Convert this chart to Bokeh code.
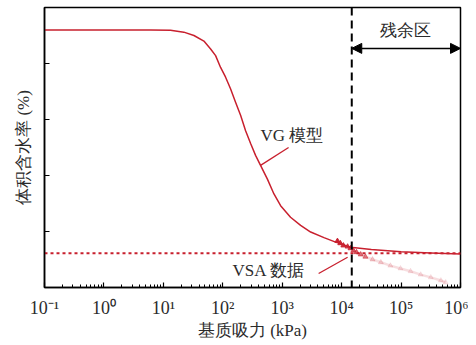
from bokeh.plotting import figure
from bokeh.models import (Range1d, FixedTicker, CustomJSTickFormatter, Span, Arrow,
                          NormalHead, Label, ColumnDataSource)
from bokeh.embed import file_html
from bokeh.resources import INLINE

# ---- data ----
# VG model curve: matric suction (kPa) vs volumetric water content (%)
vg_suction = [0.1, 1.0, 6.1, 13.2, 22.1, 32.7, 48.1, 62.4, 75.7, 91.8, 111, 135, 164, 200,
              242, 294, 356, 432, 561, 726, 940, 1380, 2040, 3010, 5040, 7930, 14100,
              31600, 100000, 316000, 1000000]
vg_theta = [46.0, 46.0, 46.0, 45.95, 45.6, 45.0, 44.0, 42.6, 41.4, 39.3, 37.6, 35.5, 33.1, 30.7,
            28.0, 25.7, 23.6, 21.8, 19.4, 16.7, 14.6, 12.55, 11.1, 9.9, 8.9, 8.1, 7.2,
            6.8, 6.4, 6.15, 6.0]

# VSA measured data
vsa_suction = [8500, 9500, 10700, 12600, 14100, 15800, 17800, 20900, 25100, 33100,
               45700, 66100, 97700, 144500, 213800, 316200, 467700, 562300]
vsa_theta = [8.3, 7.9, 7.5, 7.3, 7.0, 6.6, 6.3, 5.9, 5.5, 5.0,
             4.5, 3.9, 3.4, 2.9, 2.3, 1.8, 1.25, 0.9]

residual_theta = 6.1          # residual water content (dotted line)
residual_start = 14800        # start of residual zone (kPa)

x_ticks = [0.1, 1, 10, 100, 1000, 10000, 100000, 1000000]
x_tick_labels = ["10⁻¹", "10⁰", "10¹", "10²", "10³", "10⁴", "10⁵", "10⁶"]
y_ticks = [10, 20, 30, 40]

x_label = "基质吸力 (kPa)"
y_label = "体积含水率 (%)"
zone_label = "残余区"
vg_label = "VG 模型"
vsa_label = "VSA 数据"

# ---- styling ----
FONT = "Liberation Serif"
RED = "#c8202e"
TXT = "#2b2b2b"

p = figure(x_axis_type="log",
           x_range=Range1d(0.1, 1e6), y_range=Range1d(0, 50),
           output_backend="svg", toolbar_location=None,
           min_border_left=44, min_border_right=8, min_border_top=7, min_border_bottom=40)
p.frame_width = 416
p.frame_height = 280
p.title_location = None
p.background_fill_color = "white"
p.border_fill_color = "white"
p.outline_line_color = "black"
p.outline_line_width = 1.5
p.xgrid.visible = False
p.ygrid.visible = False

minor = []
for k in range(-1, 6):
    for m in range(2, 10):
        minor.append(m * 10.0 ** k)

xa = p.xaxis[0]
xa.ticker = FixedTicker(ticks=x_ticks, minor_ticks=minor)
xa.formatter = CustomJSTickFormatter(args=dict(vals=x_ticks, labs=x_tick_labels), code="""
let best = 0; let d = 1e99;
for (let i = 0; i < vals.length; i++) {
  const dd = Math.abs(Math.log10(vals[i]) - Math.log10(tick));
  if (dd < d) { d = dd; best = i; }
}
return labs[best];
""")
xa.major_tick_in = 5
xa.major_tick_out = 0
xa.minor_tick_in = 3
xa.minor_tick_out = 0
xa.axis_line_width = 1.5
xa.major_tick_line_width = 1.2
xa.minor_tick_line_width = 1
xa.major_label_text_font = FONT
xa.major_label_text_font_size = "18px"
xa.major_label_text_color = TXT
xa.major_label_standoff = 10
xa.axis_label = x_label
xa.axis_label_text_font = FONT
xa.axis_label_text_font_size = "17px"
xa.axis_label_text_font_style = "normal"
xa.axis_label_text_color = TXT
xa.axis_label_standoff = 0

ya = p.yaxis[0]
ya.ticker = FixedTicker(ticks=y_ticks, minor_ticks=[])
ya.formatter = CustomJSTickFormatter(code="return '';")
ya.major_tick_in = 5
ya.major_tick_out = 0
ya.minor_tick_in = 0
ya.minor_tick_out = 0
ya.axis_line_width = 1.5
ya.major_tick_line_width = 1.2
ya.major_label_standoff = 0
ya.axis_label = y_label
ya.axis_label_text_font = FONT
ya.axis_label_text_font_size = "17px"
ya.axis_label_text_font_style = "normal"
ya.axis_label_text_color = TXT
ya.axis_label_standoff = 12

# residual line (dotted)
p.line(x=[x_ticks[0], x_ticks[-1]], y=[residual_theta, residual_theta],
       line_color=RED, line_width=2, line_dash="3 3")

# VSA data (small fading triangles)
n = len(vsa_suction)
alphas = [max(0.15, 1.0 - 0.06 * i) if i < 9 else max(0.1, 0.45 - 0.03 * i) for i in range(n)]
p.line(x=vsa_suction, y=vsa_theta, line_color=RED, line_width=2.5, line_alpha=0.15)
src = ColumnDataSource(dict(x=vsa_suction, y=vsa_theta, a=alphas))
p.scatter(x="x", y="y", source=src, marker="triangle", size=5,
          fill_color=RED, line_color=RED, fill_alpha="a", line_alpha="a")

# VG curve
p.line(x=vg_suction, y=vg_theta, line_color=RED, line_width=1.5, line_join="round")

# residual zone boundary
p.add_layout(Span(location=residual_start, dimension="height", line_color="black",
                  line_width=2, line_dash="8 5"))
p.add_layout(Arrow(start=NormalHead(size=10, fill_color="black", line_color="black"),
                   end=NormalHead(size=10, fill_color="black", line_color="black"),
                   x_start=residual_start, y_start=42.7, x_end=1e6, y_end=42.7,
                   line_color="black", line_width=1.5))
p.add_layout(Label(x=1.2e5, y=45.9, text=zone_label, text_font=FONT, text_font_size="17px",
                   text_color=TXT, text_align="center", text_baseline="middle"))

# VG label + leader
p.add_layout(Label(x=432, y=27.1, text=vg_label, text_font=FONT, text_font_size="17px",
                   text_color=TXT, text_align="left", text_baseline="middle"))
p.line(x=[432, 1280], y=[21.8, 25.0], line_color=RED, line_width=1.3)

# VSA label + leader
p.add_layout(Label(x=146, y=3.0, text=vsa_label, text_font=FONT, text_font_size="17px",
                   text_color=TXT, text_align="left", text_baseline="middle"))
p.line(x=[4100, 12600], y=[2.5, 5.4], line_color=RED, line_width=1.3)

open("out.html", "w").write(file_html(p, INLINE))
